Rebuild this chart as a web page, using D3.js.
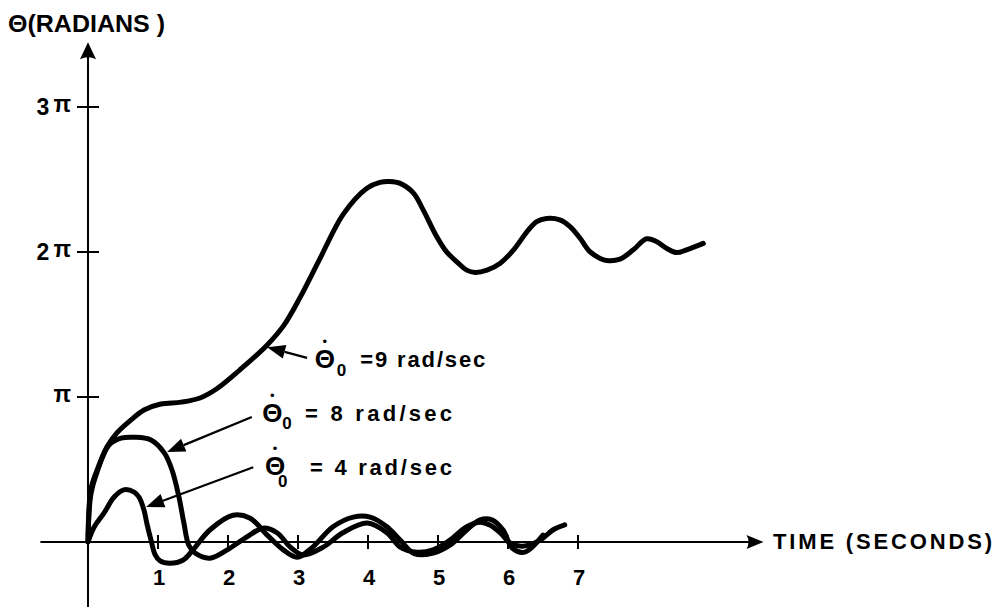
<!DOCTYPE html>
<html><head><meta charset="utf-8">
<script src="https://cdn.jsdelivr.net/npm/d3@7"></script>
<style>html,body{margin:0;padding:0;background:#fff}svg{display:block}</style>
</head><body><svg id="c" width="999" height="616"></svg>
<script>
// ---- data ----
const xTicks = [1, 2, 3, 4, 5, 6, 7];
const xTickLabels = ["1", "2", "3", "4", "5", "6", "7"];
const yTicks = [Math.PI, 2 * Math.PI, 3 * Math.PI];
const yTickDigits = ["", "2", "3"];
const yTickSymbol = "π";

// theta-dot0 = 9 rad/sec
const time9 = [0, 0.04, 0.13, 0.27, 0.41, 0.61, 0.80, 1.04, 1.33, 1.60, 1.84, 2.17, 2.56, 2.80, 3.03, 3.31, 3.65, 3.98, 4.17, 4.31, 4.46, 4.65, 4.79, 4.98, 5.12, 5.27, 5.41, 5.53, 5.70, 5.89, 6.08, 6.27, 6.41, 6.55, 6.74, 6.89, 7.03, 7.17, 7.31, 7.41, 7.60, 7.79, 7.98, 8.12, 8.27, 8.41, 8.55, 8.79];
const theta9 = [0, 1.13, 1.56, 2.06, 2.36, 2.64, 2.86, 2.99, 3.03, 3.12, 3.32, 3.73, 4.27, 4.70, 5.30, 6.13, 7.11, 7.66, 7.79, 7.81, 7.77, 7.56, 7.19, 6.62, 6.29, 6.07, 5.89, 5.84, 5.89, 6.04, 6.33, 6.72, 6.94, 7.01, 6.98, 6.83, 6.58, 6.29, 6.15, 6.10, 6.13, 6.33, 6.57, 6.51, 6.36, 6.27, 6.33, 6.47];
// theta-dot0 = 8 rad/sec
const time8 = [0, 0.04, 0.13, 0.30, 0.47, 0.66, 0.90, 1.09, 1.20, 1.30, 1.37, 1.44, 1.53, 1.74, 1.99, 2.27, 2.50, 2.70, 2.89, 3.07, 3.36, 3.64, 3.99, 4.27, 4.46, 4.70, 4.93, 5.17, 5.41, 5.60, 5.74, 5.89, 6.03, 6.21, 6.46, 6.64, 6.81];
const theta8 = [0, 1.02, 1.52, 2.10, 2.25, 2.27, 2.21, 1.93, 1.56, 0.97, 0.41, -0.07, -0.24, -0.35, -0.17, 0.11, 0.30, 0.20, -0.11, -0.28, -0.11, 0.20, 0.41, 0.20, -0.11, -0.22, -0.17, 0.04, 0.33, 0.43, 0.37, 0.20, -0.02, -0.09, 0.04, 0.26, 0.37];
// theta-dot0 = 4 rad/sec
const time4 = [0, 0.09, 0.23, 0.37, 0.51, 0.66, 0.73, 0.80, 0.84, 0.90, 0.96, 1.03, 1.17, 1.36, 1.50, 1.74, 2.07, 2.31, 2.56, 2.79, 2.99, 3.21, 3.50, 3.79, 4.03, 4.27, 4.46, 4.67, 4.93, 5.17, 5.41, 5.60, 5.77, 5.93, 6.06, 6.24, 6.50];
const theta4 = [0, 0.33, 0.63, 0.97, 1.13, 1.08, 0.97, 0.69, 0.41, 0.04, -0.28, -0.41, -0.46, -0.39, -0.17, 0.26, 0.58, 0.52, 0.15, -0.17, -0.33, -0.11, 0.33, 0.54, 0.54, 0.33, 0.04, -0.26, -0.24, -0.07, 0.26, 0.48, 0.48, 0.26, -0.13, -0.22, 0.15];

const annValues = ["=9 rad/sec", "= 8 rad/sec", "= 4 rad/sec"];
// arrow tail / tip in (seconds, radians)
const annTail = [[3.13, 3.99], [2.34, 2.71], [2.36, 1.62]];
const annTip  = [[2.56, 4.22], [1.13, 1.95], [0.83, 0.76]];
// symbol & text anchors in (seconds, radians)
const annSymbol = [[3.24, 3.77], [2.49, 2.60], [2.53, 1.45]];
const annSubDx = [22, 20, 13];
const annSubDy = [8, 7, 12];
const annText = [[3.89, 3.79], [3.10, 2.62], [3.17, 1.45]];
const annTextLen = [125, 147, 142];

// ---- drawing ----
const svg = d3.select("#c");
const x = d3.scaleLinear().domain([0, 7]).range([88, 578]);
const y = d3.scaleLinear().domain([0, 3 * Math.PI]).range([542, 107]);
const FONT = "'Liberation Sans', Arial, sans-serif";
const ink = "#000";

// axes lines
const g = svg.append("g");
g.append("line").attr("x1", x(-0.68)).attr("x2", x(9.45)).attr("y1", y(0)).attr("y2", y(0))
  .attr("stroke", ink).attr("stroke-width", 2);
g.append("line").attr("x1", x(0)).attr("x2", x(0)).attr("y1", y(-1.41)).attr("y2", y(10.6))
  .attr("stroke", ink).attr("stroke-width", 2);
// arrowheads
const xe = x(9.65), ye = y(10.83);
g.append("path").attr("d", `M${xe},${y(0)} L${xe-17},${y(0)-7} Q${xe-13},${y(0)} ${xe-17},${y(0)+7} Z`).attr("fill", ink);
g.append("path").attr("d", `M${x(0)},${ye} L${x(0)-8},${ye+17} Q${x(0)},${ye+13} ${x(0)+8},${ye+17} Z`).attr("fill", ink);

// x ticks
g.selectAll(".xt").data(xTicks).join("line")
  .attr("x1", d => x(d)).attr("x2", d => x(d)).attr("y1", y(0) - 7).attr("y2", y(0) + 7)
  .attr("stroke", ink).attr("stroke-width", 2);
g.selectAll(".xl").data(xTicks).join("text")
  .attr("x", d => x(d) + 1).attr("y", y(0) + 43)
  .attr("text-anchor", "middle").attr("font-family", FONT).attr("font-weight", "bold").attr("font-size", 22)
  .text((d, i) => xTickLabels[i]);

// y ticks
g.selectAll(".yt").data(yTicks).join("line")
  .attr("x1", x(0) - 11).attr("x2", x(0) + 11).attr("y1", d => y(d)).attr("y2", d => y(d))
  .attr("stroke", ink).attr("stroke-width", 2);
const yl = g.selectAll(".yl").data(yTicks).join("text")
  .attr("x", x(0) - 17).attr("y", d => y(d) + 8)
  .attr("text-anchor", "end").attr("font-family", FONT).attr("font-weight", "bold").attr("font-size", 23);
yl.append("tspan").text((d, i) => yTickDigits[i]);
yl.append("tspan").attr("dx", (d, i) => yTickDigits[i] ? 4 : 0).attr("dy", -3).attr("font-size", 23).text(yTickSymbol);

// axis titles
svg.append("text").attr("x", 8).attr("y", 32).attr("font-family", FONT).attr("font-weight", "bold").attr("font-size", 24)
  .attr("textLength", 157).attr("lengthAdjust", "spacingAndGlyphs").text("Θ(RADIANS )");
svg.append("text").attr("x", 773).attr("y", 549).attr("font-family", FONT).attr("font-weight", "bold").attr("font-size", 22)
  .attr("textLength", 219).attr("lengthAdjust", "spacing").text("TIME (SECONDS)");

// curves
const line = d3.line().x(d => x(d[0])).y(d => y(d[1])).curve(d3.curveCatmullRom.alpha(0.5));
const series = [[time9, theta9], [time8, theta8], [time4, theta4]];
svg.append("g").selectAll("path").data(series).join("path")
  .attr("d", s => line(s[0].map((t, i) => [t, s[1][i]])))
  .attr("fill", "none").attr("stroke", ink).attr("stroke-width", 5)
  .attr("stroke-linejoin", "round").attr("stroke-linecap", "round");

// annotations
const ag = svg.append("g");
annTail.forEach((tail, i) => {
  const x1 = x(tail[0]), y1 = y(tail[1]), x2 = x(annTip[i][0]), y2 = y(annTip[i][1]);
  const ang = Math.atan2(y2 - y1, x2 - x1), L = 18, W = 7;
  const bx = x2 - L * Math.cos(ang), by = y2 - L * Math.sin(ang);
  ag.append("line").attr("x1", x1).attr("y1", y1).attr("x2", bx).attr("y2", by)
    .attr("stroke", ink).attr("stroke-width", 2.2);
  ag.append("path").attr("d", `M${x2},${y2} L${bx - W*Math.sin(ang)},${by + W*Math.cos(ang)} L${bx + W*Math.sin(ang)},${by - W*Math.cos(ang)} Z`)
    .attr("fill", ink);
  const sx = x(annSymbol[i][0]), sy = y(annSymbol[i][1]);
  ag.append("text").attr("x", sx).attr("y", sy).attr("font-family", FONT).attr("font-weight", "bold")
    .attr("font-size", 26).text("Θ");
  ag.append("text").attr("x", sx + 10).attr("y", sy - 22).attr("text-anchor", "middle").attr("font-family", FONT)
    .attr("font-size", 13).text("•");
  ag.append("text").attr("x", sx + annSubDx[i]).attr("y", sy + annSubDy[i]).attr("font-family", FONT).attr("font-weight", "bold")
    .attr("font-size", 17).text("0");
  ag.append("text").attr("x", x(annText[i][0])).attr("y", y(annText[i][1])).attr("font-family", FONT).attr("font-weight", "bold")
    .attr("font-size", 22).attr("textLength", annTextLen[i]).attr("lengthAdjust", "spacing").text(annValues[i]);
});
</script></body></html>
